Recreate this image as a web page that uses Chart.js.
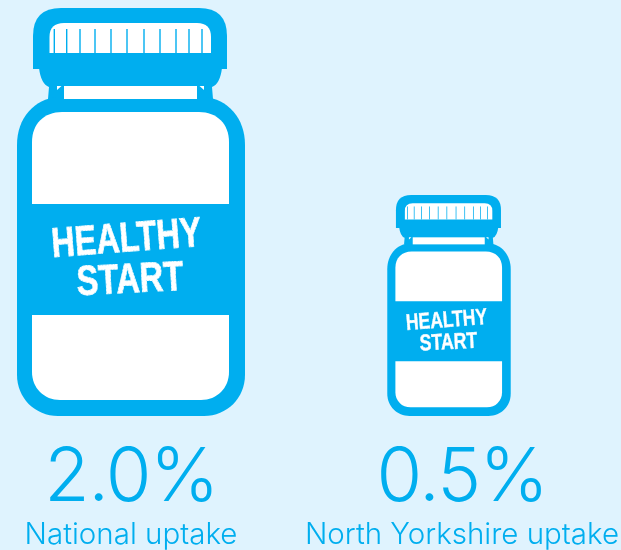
<!DOCTYPE html>
<html><head><meta charset="utf-8">
<style>html,body{margin:0;padding:0;background:#DFF3FE}#w{width:621px;height:550px}canvas{display:block}</style>
<script src="https://cdn.jsdelivr.net/npm/chart.js@4"></script></head>
<body><div id="w"><canvas id="c"></canvas></div>
<script>
const categories = ['National uptake', 'North Yorkshire uptake'];
const uptakeValues = [2.0, 0.5];
const valueLabels = ['2.0%', '0.5%'];
const brandLines = ['HEALTHY', 'START'];

const BLUE = '#00AEEF', BG = '#DFF3FE', WHITE = '#FFFFFF';
const FONT = 'Inter, Roboto, sans-serif';
const capLines = [54.3,66.7,80,95,111,127,144,160,176,189,202];

function bottle(ctx) {
  // designed in the large bottle's frame (228 x 408)
  ctx.fillStyle = BLUE;
  // cap
  ctx.beginPath(); ctx.moveTo(33,69); ctx.lineTo(33,36); ctx.quadraticCurveTo(33,8,61,8);
  ctx.lineTo(199,8); ctx.quadraticCurveTo(227,8,227,36); ctx.lineTo(227,69); ctx.closePath(); ctx.fill();
  // collar
  ctx.beginPath(); ctx.moveTo(39,68); ctx.quadraticCurveTo(41,84,49,87); ctx.lineTo(48,99);
  ctx.lineTo(213,99); ctx.lineTo(212,87); ctx.quadraticCurveTo(220,84,222,68); ctx.closePath(); ctx.fill();
  // body
  ctx.beginPath(); ctx.moveTo(58,97); ctx.lineTo(204,97);
  ctx.bezierCurveTo(228,99,245,118,245,145); ctx.lineTo(245,375);
  ctx.bezierCurveTo(245,398,227,416,204,416); ctx.lineTo(58,416);
  ctx.bezierCurveTo(35,416,17,398,17,375); ctx.lineTo(17,145);
  ctx.bezierCurveTo(17,118,34,99,58,97); ctx.closePath(); ctx.fill();

  ctx.fillStyle = WHITE;
  // cap window
  ctx.beginPath(); ctx.moveTo(49.5,53); ctx.lineTo(49.5,37); ctx.quadraticCurveTo(49.5,23,64,23);
  ctx.lineTo(197,23); ctx.quadraticCurveTo(211,23,211,37); ctx.lineTo(211,53); ctx.closePath(); ctx.fill();
  // neck window
  ctx.fillRect(64,86,133,13);
  ctx.beginPath(); ctx.moveTo(57,86); ctx.lineTo(61.5,86); ctx.lineTo(57,90); ctx.closePath(); ctx.fill();
  ctx.beginPath(); ctx.moveTo(204,86); ctx.lineTo(199.5,86); ctx.lineTo(204,90); ctx.closePath(); ctx.fill();
  // upper panel
  ctx.beginPath(); ctx.moveTo(32,204); ctx.lineTo(32,142); ctx.bezierCurveTo(32,124,44,112,62,112);
  ctx.lineTo(199,112); ctx.bezierCurveTo(217,112,229,124,229,142); ctx.lineTo(229,204); ctx.closePath(); ctx.fill();
  // lower panel
  ctx.beginPath(); ctx.moveTo(32,315); ctx.lineTo(32,372); ctx.bezierCurveTo(32,388,44,400,60,400);
  ctx.lineTo(201,400); ctx.bezierCurveTo(217,400,229,388,229,372); ctx.lineTo(229,315); ctx.closePath(); ctx.fill();
  // cap ribs
  ctx.fillStyle = BLUE;
  capLines.forEach(x => ctx.fillRect(x - 0.7, 29, 1.4, 24));
  // brand text
  const word = (t, cx, cy, rot, size, sx) => {
    ctx.save(); ctx.translate(cx, cy); ctx.rotate(rot); ctx.scale(sx, 1);
    ctx.font = 'bold ' + size + 'px "Liberation Sans", sans-serif';
    ctx.textAlign = 'center'; ctx.textBaseline = 'middle';
    ctx.fillStyle = WHITE; ctx.fillText(t, 0, 0);
    ctx.strokeStyle = WHITE; ctx.lineWidth = 0.8; ctx.strokeText(t, 0, 0);
    ctx.strokeStyle = 'rgba(0,174,239,0.4)'; ctx.lineWidth = 0.7; ctx.setLineDash([1.6,2.3,0.8,3.1]);
    ctx.strokeText(t, 0, 0); ctx.setLineDash([]);
    ctx.restore();
  };
  word(brandLines[0], 126.5, 240, -0.075, 42, 0.77);
  word(brandLines[1], 130, 281, -0.05, 42, 0.78);
}

const bottleShift = [0, -13];
const bottlePlugin = {
  id: 'bottles',
  beforeDraw(chart) {
    const c = chart.ctx; c.save(); c.fillStyle = BG; c.fillRect(0,0,chart.width,chart.height); c.restore();
  },
  afterDatasetsDraw(chart) {
    const c = chart.ctx;
    chart.getDatasetMeta(0).data.forEach((bar, i) => {
      const s = (bar.base - bar.y) / 408;
      c.save();
      c.translate(bar.x + bottleShift[i] - 131 * s, bar.y - 8 * s);
      c.scale(s, s);
      bottle(c);
      c.restore();
    });
  },
  afterDraw(chart) {
    const c = chart.ctx, xs = chart.scales.x;
    c.save();
    c.fillStyle = BLUE; c.textAlign = 'center'; c.textBaseline = 'alphabetic';
    c.font = '300 74px ' + FONT;
    c.letterSpacing = '-1.5px';
    valueLabels.forEach((t, i) => c.fillText(t, xs.getPixelForTick(i), 501));
    c.restore();
  }
};

new Chart(document.getElementById('c'), {
  type: 'bar',
  data: { labels: categories, datasets: [{ data: uptakeValues, backgroundColor: 'rgba(0,0,0,0)', borderWidth: 0 }] },
  plugins: [bottlePlugin],
  options: {
    responsive: true, maintainAspectRatio: false, animation: false,
    layout: { padding: { left: 131, right: 159, top: 8, bottom: 0 } },
    plugins: { legend: { display: false }, tooltip: { enabled: false } },
    scales: {
      x: { offset: false, grid: { display: false }, border: { display: false },
           afterFit(s) { s.height = 134; s.paddingLeft = 0; s.paddingRight = 0; },
           ticks: { color: BLUE, font: { family: FONT, size: 29.5, weight: '300' }, padding: 93, maxRotation: 0, autoSkip: false } },
      y: { type: 'logarithmic', display: false, min: 0.0973, max: 2.0 }
    }
  }
});
</script></body></html>
